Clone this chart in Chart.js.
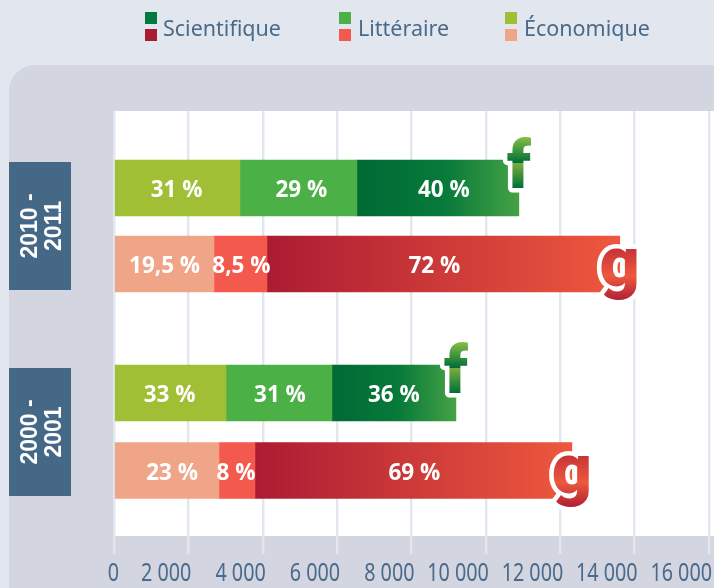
<!DOCTYPE html>
<html><head><meta charset="utf-8">
<style>html,body{margin:0;padding:0;background:#e2e7ef}canvas{display:block}</style>
<script src="https://cdn.jsdelivr.net/npm/chart.js@4"></script>
</head><body><canvas id="c" width="714" height="588"></canvas>
<script>
const rows = ['2010-2011 f','2010-2011 g','2000-2001 f','2000-2001 g'];
const rowPositions = [77,153,282,359.5];
const economique = [3387,2688,3011,2823];
const litteraire = [3145,1425,2849,967];
const scientifique = [4355,9487,3334,8522];
const economiqueLabels = ['31 %','19,5 %','33 %','23 %'];
const litteraireLabels = ['29 %','8,5 %','31 %','8 %'];
const scientifiqueLabels = ['40 %','72 %','36 %','69 %'];
const rowLetters = ['f','g','f','g'];
const periods = [['2010 -','2011'],['2000 -','2001']];
const legendNames = ['Scientifique','Littéraire','Économique'];
const xTicks = [0,2000,4000,6000,8000,10000,12000,14000,16000];

const BLUE='#466887', TEXT='#4a6a8a';
const fmt=v=>v===0?'0':String(v).replace(/\B(?=(\d{3})+$)/,' ');
const pts=(arr)=>arr.map((v,i)=>({x:v,y:rowPositions[i]}));
function sciColor(c){
  const a=c.chart.chartArea; const i=c.dataIndex;
  const green=i%2===0;
  if(!a) return green?'#006f37':'#ab1c33';
  const xs=c.chart.scales.x;
  const s=economique[i]+litteraire[i], e=s+scientifique[i];
  const g=c.chart.ctx.createLinearGradient(xs.getPixelForValue(s),0,xs.getPixelForValue(e),0);
  if(green){g.addColorStop(0,'#006a35');g.addColorStop(.55,'#087a3a');g.addColorStop(1,'#45a245');}
  else{g.addColorStop(0,'#ab1c33');g.addColorStop(1,'#ee583e');}
  return g;
}
const decor={id:'decor',
  beforeDraw(ch){
    const c=ch.ctx,a=ch.chartArea;c.save();
    c.fillStyle='#e2e7ef';c.fillRect(0,0,714,588);
    c.fillStyle='#d3d6e1';c.beginPath();c.roundRect(9,65,705,523,[26,0,0,0]);c.fill();
    c.fillStyle='#fff';c.fillRect(a.left,a.top,714-a.left,a.bottom-a.top);
    const sw=[[145,'#007a3d','#ab1c33',163],[339,'#4bb045','#f4594e',358],[505,'#a0bf35','#f0a488',524]];
    sw.forEach((s,i)=>{
      c.fillStyle=s[1];c.fillRect(s[0],12,12,12);
      c.fillStyle=s[2];c.fillRect(s[0],29,12,12);
      c.fillStyle=TEXT;c.font='21.5px "Noto Sans"';c.textAlign='left';c.textBaseline='alphabetic';
      c.fillText(legendNames[i],s[3],36);
    });
    c.restore();
  },
  afterDatasetsDraw(ch){
    const c=ch.ctx;c.save();
    [[162,128],[368,128]].forEach((b,i)=>{
      c.fillStyle=BLUE;c.fillRect(9,b[0],62,b[1]);
      c.save();c.translate(40,b[0]+b[1]/2);c.rotate(-Math.PI/2);
      c.fillStyle='#fff';c.font='bold 23px "Liberation Sans"';c.textAlign='center';c.textBaseline='alphabetic';
      c.fillText(periods[i][0],0,-3);c.fillText(periods[i][1],0,21);
      c.restore();
    });
    const sets=[economiqueLabels,litteraireLabels,scientifiqueLabels];
    const dx=[[-1,0,-1,5],[3,1,1,-1],[6,-9,0,1]];
    c.fillStyle='#fff';c.font='bold 22.5px "Open Sans"';c.textAlign='center';c.textBaseline='middle';
    sets.forEach((labels,d)=>{
      const m=ch.getDatasetMeta(d);
      labels.forEach((t,i)=>{const el=m.data[i];c.fillText(t,(el.x+el.base)/2+dx[d][i],el.y+3);});
    });
    const last=ch.getDatasetMeta(2);
    rowLetters.forEach((l,i)=>{
      const el=last.data[i];const top=el.y-28;
      const base=top+(l==='f'?28:50);
      c.font=(l==='f'?'900 66px':'900 70px')+' "Roboto"';c.textAlign='center';c.textBaseline='alphabetic';
      c.lineJoin='round';c.lineWidth=9;c.strokeStyle='#fff';
      c.strokeText(l,el.x,base);
      const g=c.createLinearGradient(0,l==='f'?top-23:top+14,0,l==='f'?top+28:top+66);
      if(l==='f'){g.addColorStop(0,'#86bf45');g.addColorStop(.5,'#006f37');g.addColorStop(.52,'#78ad3f');g.addColorStop(1,'#006f37');}
      else{g.addColorStop(0,'#c93537');g.addColorStop(.5,'#ee583e');g.addColorStop(1,'#ab1c33');}
      c.fillStyle=g;c.fillText(l,el.x,base);
    });
    // x-axis labels, condensed like the original face, placed from the library's scale
    const xs=ch.scales.x;
    c.fillStyle=TEXT;c.font='25px "Noto Sans"';c.textAlign='right';c.textBaseline='alphabetic';
    xs.ticks.forEach(t=>{
      c.save();c.translate(xs.getPixelForValue(t.value)+(t.value===0?5:3),581);c.scale(.79,1);
      c.fillText(fmt(t.value),0,0);c.restore();
    });
    c.restore();
  }};
const common={barThickness:56,borderWidth:0,borderSkipped:false};
new Chart(document.getElementById('c'),{
  type:'bar',
  data:{datasets:[
    {label:'Économique',data:pts(economique),backgroundColor:rows.map((_,i)=>i%2?'#f0a488':'#a0bf35'),...common},
    {label:'Littéraire',data:pts(litteraire),backgroundColor:rows.map((_,i)=>i%2?'#f4594e':'#4bb045'),...common},
    {label:'Scientifique',data:pts(scientifique),backgroundColor:sciColor,...common}
  ]},
  plugins:[decor],
  options:{
    indexAxis:'y',responsive:false,animation:false,
    layout:{autoPadding:false,padding:{left:114,right:5,top:111,bottom:0}},
    plugins:{legend:{display:false},tooltip:{enabled:false}},
    scales:{
      x:{type:'linear',stacked:true,min:0,max:16000,
        afterBuildTicks(s){s.ticks=xTicks.map(v=>({value:v}));},
        afterFit(s){s.height=52;},
        border:{display:false},
        grid:{color:'#e2e7ef',tickColor:'#e2e7ef',lineWidth:2.4,tickWidth:2.4,tickLength:18,drawOnChartArea:true},
        ticks:{display:false}
      },
      y:{type:'linear',display:false,reverse:true,min:0,max:425,stacked:true,offset:false}
    }
  }
});
</script></body></html>
